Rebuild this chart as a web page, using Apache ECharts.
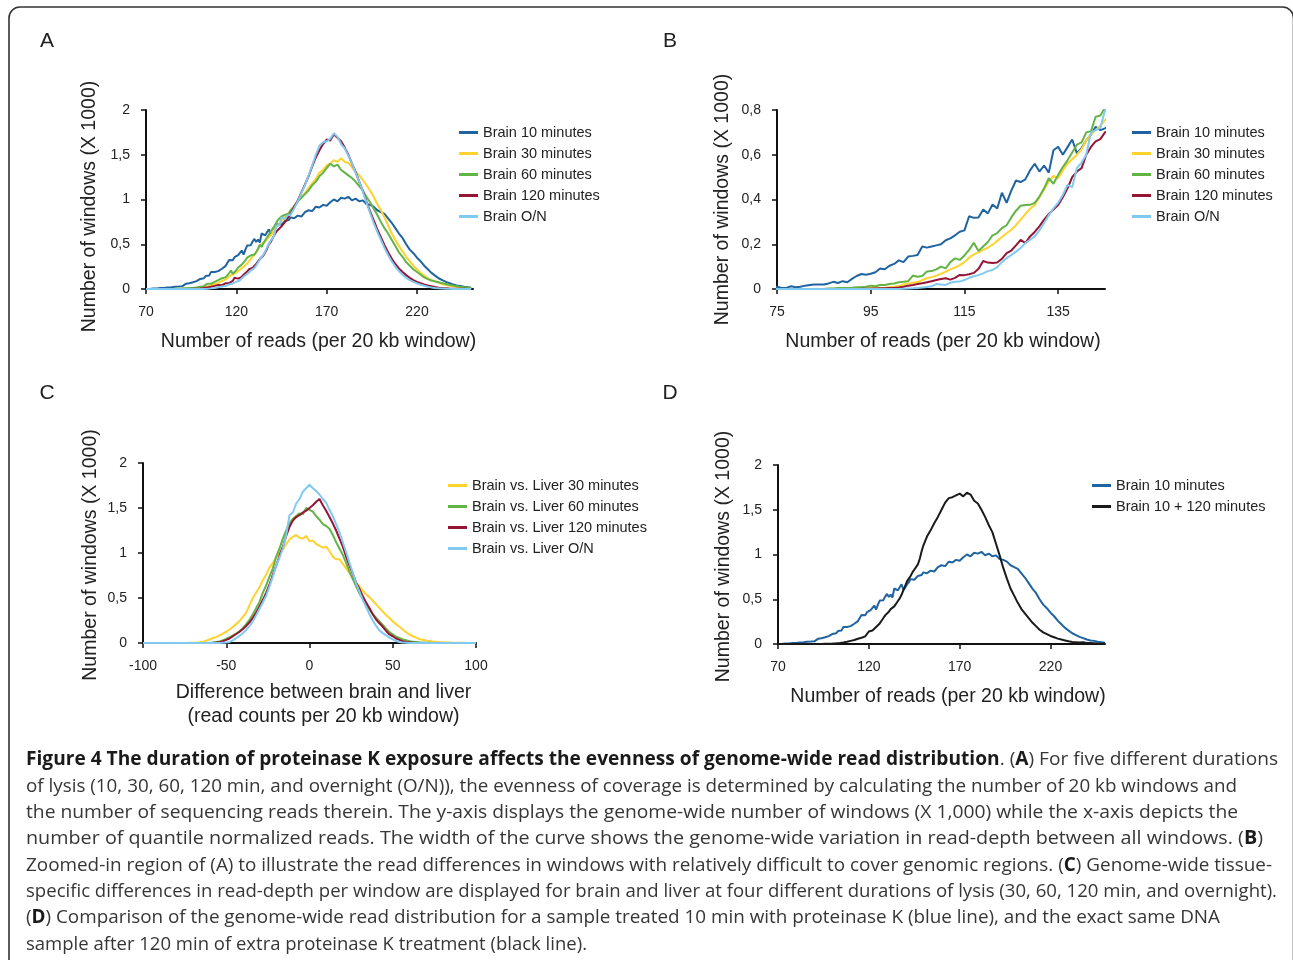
<!DOCTYPE html>
<html><head><meta charset="utf-8">
<script src="https://cdn.jsdelivr.net/npm/echarts@6/dist/echarts.min.js"></script>
<style>html,body{margin:0;padding:0;background:#fff}#c{width:1293px;height:960px}</style>
</head><body><div id="c"></div>
<script>
// ---------- DATA ----------
const readsX = [
70,71,72,73,74,75,76,77,78,79,
80,81,82,83,84,85,86,87,88,89,
90,91,92,93,94,95,96,97,98,99,
100,101,102,103,104,105,106,107,108,109,
110,111,112,113,114,115,116,117,118,119,
120,121,122,123,124,125,126,127,128,129,
130,131,132,133,134,135,136,137,138,139,
140,141,142,143,144,145,146,147,148,149,
150,
152,154,156,158,160,162,164,166,168,170,
172,174,176,178,180,182,184,186,188,190,
192,194,196,198,200,202,204,206,208,210,
212,214,216,218,220,222,224,226,228,230,
232,234,236,238,240,242,244,246,248,250];

const brain10 = [
0,0,0,0.005,0.005,0.01,0.005,0.005,0.012,0.008,
0.01,0.015,0.018,0.02,0.02,0.02,0.025,0.032,0.027,0.035,
0.03,0.045,0.058,0.067,0.064,0.068,0.075,0.092,0.088,0.104,
0.112,0.128,0.12,0.145,0.148,0.152,0.19,0.185,0.19,0.195,
0.2,0.218,0.226,0.24,0.256,0.262,0.325,0.318,0.32,0.355,
0.338,0.378,0.36,0.43,0.385,0.44,0.485,0.478,0.49,0.53,
0.56,0.525,0.552,0.52,0.62,0.636,0.6,0.634,0.668,0.606,
0.63,0.665,0.69,0.725,0.71,0.718,0.73,0.76,0.74,0.77,
0.8,
0.79,0.82,0.81,0.86,0.88,0.87,0.92,0.91,0.94,0.93,
0.97,1.0,0.98,1.02,1.01,1.03,0.99,1.01,0.98,0.99,
0.95,0.94,0.92,0.88,0.86,0.84,0.79,0.74,0.68,0.62,
0.57,0.5,0.44,0.4,0.35,0.31,0.26,0.22,0.18,0.15,
0.12,0.1,0.08,0.065,0.05,0.04,0.035,0.025,0.02,0.015];

const brain30 = [
0,0,0,0,0,0,0,0,0,0,
0,0,0,0,0,0,0.001,0.001,0.002,0.002,
0.002,0.003,0.003,0.003,0.003,0.003,0.004,0.005,0.006,0.008,
0.01,0.013,0.02,0.024,0.028,0.031,0.04,0.048,0.053,0.06,
0.068,0.078,0.088,0.096,0.107,0.12,0.14,0.155,0.164,0.175,
0.185,0.198,0.215,0.232,0.249,0.265,0.285,0.31,0.335,0.358,
0.375,0.41,0.445,0.48,0.505,0.495,0.53,0.56,0.58,0.6,
0.625,0.665,0.69,0.71,0.73,0.755,0.78,0.8,0.83,0.85,
0.87,
0.93,0.97,1.03,1.07,1.13,1.18,1.23,1.3,1.33,1.38,
1.4,1.44,1.42,1.46,1.42,1.41,1.36,1.31,1.27,1.22,
1.16,1.1,1.03,0.95,0.88,0.8,0.71,0.62,0.55,0.48,
0.42,0.36,0.31,0.26,0.22,0.18,0.15,0.12,0.1,0.085,
0.07,0.055,0.045,0.035,0.03,0.025,0.02,0.015,0.012,0.01];

const brain60 = [
0,0,0,0,0,0,0,0,0,0,
0,0,0,0,0,0,0.002,0.002,0.004,0.004,
0.005,0.006,0.008,0.008,0.01,0.015,0.012,0.018,0.018,0.022,
0.025,0.03,0.032,0.035,0.06,0.055,0.058,0.078,0.08,0.088,
0.1,0.092,0.12,0.137,0.13,0.15,0.175,0.207,0.17,0.19,
0.21,0.24,0.25,0.272,0.285,0.32,0.35,0.372,0.375,0.376,
0.385,0.413,0.45,0.495,0.47,0.51,0.545,0.575,0.61,0.645,
0.655,0.7,0.705,0.77,0.775,0.81,0.8,0.83,0.85,0.84,
0.88,
0.92,0.98,1.02,1.06,1.1,1.16,1.2,1.26,1.3,1.35,
1.4,1.37,1.39,1.33,1.3,1.27,1.24,1.2,1.15,1.1,
1.03,0.97,0.9,0.83,0.75,0.68,0.62,0.55,0.48,0.41,
0.36,0.3,0.26,0.22,0.19,0.16,0.13,0.11,0.095,0.085,
0.075,0.065,0.055,0.045,0.038,0.032,0.025,0.02,0.017,0.015];

const brain120 = [
0,0,0,0,0,0,0,0,0,0,
0,0,0,0,0,0,0,0,0,0,
0,0,0,0.001,0.001,0.002,0.002,0.003,0.003,0.004,
0.005,0.007,0.01,0.015,0.018,0.022,0.026,0.03,0.035,0.04,
0.045,0.048,0.042,0.05,0.063,0.062,0.066,0.072,0.09,0.125,
0.118,0.116,0.118,0.135,0.16,0.172,0.195,0.22,0.205,0.235,
0.255,0.28,0.31,0.335,0.355,0.375,0.41,0.45,0.5,0.525,
0.54,0.6,0.635,0.66,0.67,0.7,0.71,0.75,0.78,0.8,
0.84,
0.92,0.99,1.08,1.17,1.26,1.37,1.47,1.55,1.62,1.67,
1.66,1.73,1.69,1.65,1.58,1.5,1.4,1.31,1.2,1.1,
0.98,0.87,0.77,0.67,0.58,0.49,0.41,0.34,0.28,0.23,
0.19,0.155,0.125,0.1,0.08,0.065,0.052,0.04,0.03,0.022,
0.015,0.01,0.008,0.005,0.004,0.003,0.002,0.002,0.001,0];

const brainON = [
0,0,0,0,0,0,0,0,0,0,
0,0,0,0,0,0,0,0,0,0,
0,0,0,0,0,0,0,0,0,0,
0,0,0.001,0.002,0.003,0.005,0.007,0.009,0.012,0.022,
0.02,0.018,0.028,0.032,0.033,0.04,0.05,0.057,0.062,0.07,
0.08,0.085,0.098,0.12,0.138,0.152,0.167,0.183,0.205,0.22,
0.235,0.262,0.295,0.33,0.36,0.385,0.42,0.465,0.455,0.54,
0.565,0.6,0.7,0.71,0.72,0.8,0.79,0.78,0.82,0.8,
0.83,
0.9,0.98,1.07,1.16,1.27,1.38,1.5,1.6,1.64,1.65,
1.68,1.74,1.7,1.62,1.57,1.49,1.4,1.3,1.2,1.09,
0.97,0.85,0.74,0.64,0.55,0.46,0.38,0.31,0.25,0.2,
0.16,0.125,0.1,0.08,0.062,0.048,0.036,0.026,0.018,0.012,
0.008,0.005,0.003,0.002,0.001,0,0,0,0,0];

const brain10plus120 = [
0,0,0,0,0,0,0,0,0,0,
0,0,0,0,0,0,0,0,0,0,
0,0,0,0,0.001,0.001,0.002,0.002,0.003,0.004,
0.005,0.006,0.008,0.01,0.012,0.015,0.018,0.02,0.025,0.03,
0.035,0.04,0.045,0.05,0.058,0.065,0.07,0.075,0.085,0.1,
0.14,0.12,0.15,0.17,0.19,0.21,0.23,0.26,0.29,0.32,
0.34,0.36,0.39,0.4,0.42,0.45,0.48,0.51,0.55,0.6,
0.65,0.7,0.73,0.76,0.8,0.83,0.85,0.89,0.95,1.03,
1.1,
1.2,1.27,1.35,1.42,1.5,1.58,1.63,1.64,1.66,1.68,
1.65,1.69,1.67,1.6,1.57,1.5,1.42,1.33,1.25,1.12,
0.99,0.85,0.73,0.62,0.54,0.46,0.39,0.34,0.29,0.24,
0.2,0.16,0.13,0.11,0.09,0.075,0.06,0.05,0.04,0.03,
0.022,0.02,0.018,0.02,0.012,0.01,0.008,0.005,0.003,0.002];

const diffX = [
-100,-98,-96,-94,-92,-90,-88,-86,-84,-82,
-80,-78,-76,-74,-72,-70,-68,-66,-64,-62,
-60,-58,-56,-54,-52,-50,-48,-46,-44,-42,
-40,-38,-36,-34,-32,-30,-28,-26,-24,-22,
-20,-18,-16,-14,-12,-10,-8,-6,-4,-2,
0,2,4,6,8,10,12,14,16,18,
20,22,24,26,28,30,32,34,36,38,
40,42,44,46,48,50,52,54,56,58,
60,62,64,66,68,70,72,74,76,78,
80,82,84,86,88,90,92,94,96,98,
100];

const liver30 = [
0,0,0,0,0,0,0,0,0,0,
0,0,0,0.001,0.002,0.003,0.005,0.008,0.015,0.025,
0.04,0.055,0.065,0.085,0.105,0.125,0.15,0.18,0.21,0.245,
0.29,0.34,0.42,0.5,0.56,0.62,0.7,0.76,0.84,0.89,
0.95,1.0,1.04,1.1,1.15,1.18,1.2,1.17,1.16,1.19,
1.13,1.14,1.1,1.08,1.06,1.07,1.02,0.96,0.93,0.93,
0.88,0.83,0.78,0.72,0.67,0.63,0.58,0.54,0.51,0.47,
0.43,0.39,0.35,0.31,0.28,0.24,0.21,0.18,0.15,0.12,
0.095,0.075,0.06,0.045,0.035,0.028,0.022,0.017,0.013,0.01,
0.008,0.006,0.005,0.004,0.003,0.002,0.002,0.001,0.001,0,
0];

const liver60 = [
0,0,0,0,0,0,0,0,0,0,
0,0,0,0,0,0,0,0,0,0,
0,0.005,0.01,0.018,0.03,0.045,0.065,0.085,0.105,0.13,
0.165,0.21,0.26,0.32,0.39,0.46,0.56,0.64,0.74,0.83,
0.96,1.05,1.16,1.25,1.33,1.38,1.41,1.44,1.43,1.5,
1.48,1.46,1.41,1.37,1.32,1.3,1.27,1.2,1.12,1.05,
0.98,0.89,0.79,0.71,0.63,0.55,0.49,0.42,0.37,0.32,
0.28,0.24,0.2,0.16,0.12,0.095,0.07,0.055,0.04,0.03,
0.02,0.015,0.01,0.007,0.005,0.003,0.002,0,0,0,
0,0,0,0,0,0,0,0,0,0,
0];

const liver120 = [
0,0,0,0,0,0,0,0,0,0,
0,0,0,0,0,0,0,0,0,0,
0,0,0.005,0.01,0.02,0.035,0.05,0.075,0.1,0.125,
0.155,0.19,0.23,0.28,0.34,0.41,0.48,0.56,0.65,0.76,
0.86,0.97,1.07,1.19,1.29,1.36,1.4,1.42,1.45,1.47,
1.5,1.53,1.57,1.6,1.53,1.47,1.4,1.33,1.25,1.16,
1.07,0.96,0.86,0.77,0.67,0.6,0.52,0.45,0.39,0.32,
0.26,0.22,0.18,0.135,0.095,0.075,0.05,0.035,0.02,0.012,
0.007,0.004,0.002,0,0,0,0,0,0,0,
0,0,0,0,0,0,0,0,0,0,
0];

const liverON = [
0,0,0,0,0,0,0,0,0,0,
0,0,0,0,0,0,0,0,0,0,
0,0,0,0,0.003,0.006,0.012,0.03,0.055,0.08,
0.11,0.145,0.19,0.24,0.31,0.38,0.45,0.53,0.63,0.74,
0.86,0.95,1.05,1.2,1.42,1.45,1.55,1.6,1.68,1.72,
1.76,1.72,1.69,1.65,1.6,1.56,1.48,1.41,1.32,1.23,
1.12,1.01,0.89,0.78,0.66,0.57,0.48,0.4,0.32,0.25,
0.19,0.14,0.11,0.085,0.06,0.04,0.022,0.012,0.006,0.003,
0,0,0,0,0,0,0,0,0,0,
0,0,0,0,0,0,0,0,0,0,
0];

const ticksReads = [70, 120, 170, 220];
const ticksZoom = [75, 95, 115, 135];
const ticksDiff = [-100, -50, 0, 50, 100];

const namesA = ['Brain 10 minutes', 'Brain 30 minutes', 'Brain 60 minutes', 'Brain 120 minutes', 'Brain O/N'];
const namesC = ['Brain vs. Liver 30 minutes', 'Brain vs. Liver 60 minutes', 'Brain vs. Liver 120 minutes', 'Brain vs. Liver O/N'];
const namesD = ['Brain 10 minutes', 'Brain 10 + 120 minutes'];

const captionLines = [
  [["Figure 4 The duration of proteinase K exposure affects the evenness of genome-wide read distribution", true], [". (", false], ["A", true], [") For five different durations", false]],
  [["of lysis (10, 30, 60, 120 min, and overnight (O/N)), the evenness of coverage is determined by calculating the number of 20 kb windows and", false]],
  [["the number of sequencing reads therein. The y-axis displays the genome-wide number of windows (X 1,000) while the x-axis depicts the", false]],
  [["number of quantile normalized reads. The width of the curve shows the genome-wide variation in read-depth between all windows. (", false], ["B", true], [")", false]],
  [["Zoomed-in region of (A) to illustrate the read differences in windows with relatively difficult to cover genomic regions. (", false], ["C", true], [") Genome-wide tissue-", false]],
  [["specific differences in read-depth per window are displayed for brain and liver at four different durations of lysis (30, 60, 120 min, and overnight).", false]],
  [["(", false], ["D", true], [") Comparison of the genome-wide read distribution for a sample treated 10 min with proteinase K (blue line), and the exact same DNA", false]],
  [["sample after 120 min of extra proteinase K treatment (black line).", false]]
];

// ---------- STYLE ----------
const C_BLUE = '#1f64a0', C_YEL = '#ffd22e', C_GRN = '#63b446', C_RED = '#961434', C_LBL = '#80c9f0', C_BLK = '#1a1a1a';
const FONT = "'Liberation Sans', Arial, sans-serif";
const captionRight = [1278, 1237, 1238, 1263, 1272, 1277, 1220, 587];

const pairs = (xs, ys) => xs.map((x, i) => [x, ys[i]]);
const comma = v => String(v).replace('.', ',');

function xAxis(grid, min, max, ticks, name, padLeft, gap) {
  return {
    type: 'value', gridIndex: grid, min: min, max: max,
    axisLine: { show: true, onZero: false, lineStyle: { color: '#111', width: 2 } },
    axisTick: { show: true, length: 5, customValues: ticks, lineStyle: { color: '#111', width: 1.5 } },
    axisLabel: { customValues: ticks, fontSize: 14, color: '#222', fontFamily: FONT, margin: 16 },
    splitLine: { show: false },
    name: name, nameLocation: 'middle', nameGap: gap, nameMoveOverlap: false,
    nameTextStyle: { fontSize: 19.5, color: '#222', fontFamily: FONT, padding: [0, 0, 0, padLeft], lineHeight: 24 }
  };
}
function yAxis(grid, max, interval, padRight, gap) {
  return {
    type: 'value', gridIndex: grid, min: 0, max: max, interval: interval,
    axisLine: { show: true, onZero: false, lineStyle: { color: '#111', width: 2 } },
    axisTick: { show: true, length: 5, lineStyle: { color: '#111', width: 1.5 } },
    axisLabel: { formatter: comma, fontSize: 14, color: '#222', fontFamily: FONT, margin: 16 },
    splitLine: { show: false },
    name: 'Number of windows (X 1000)', nameLocation: 'middle', nameGap: gap, nameMoveOverlap: false,
    nameTextStyle: { fontSize: 19.5, color: '#222', fontFamily: FONT, padding: [0, padRight, 0, 0] }
  };
}
function line(name, xs, ys, color, axis) {
  return {
    type: 'line', name: name, data: pairs(xs, ys), xAxisIndex: axis, yAxisIndex: axis,
    symbol: 'none', showSymbol: false, clip: true, animation: false,
    itemStyle: { color: color }, lineStyle: { color: color, width: 2 },
    emphasis: { disabled: true }
  };
}
function legend(names, left, top) {
  return {
    data: names, orient: 'vertical', left: left, top: top, icon: 'rect', padding: 0,
    itemWidth: 19, itemHeight: 3, itemGap: 6, selectedMode: false,
    textStyle: { fontSize: 14.5, color: '#222', fontFamily: FONT }
  };
}

const colorsA = [C_BLUE, C_YEL, C_GRN, C_RED, C_LBL];
const dataA = [brain10, brain30, brain60, brain120, brainON];
const dataC = [liver30, liver60, liver120, liverON];
const colorsC = [C_YEL, C_GRN, C_RED, C_LBL];

const series = [];
namesA.forEach((n, i) => series.push(line(n, readsX, dataA[i], colorsA[i], 0)));
namesA.forEach((n, i) => series.push(line(n, readsX, dataA[i], colorsA[i], 1)));
namesC.forEach((n, i) => series.push(line(n, diffX, dataC[i], colorsC[i], 2)));
series.push(line(namesD[0], readsX, brain10, C_BLUE, 3));
series.push(line(namesD[1], readsX, brain10plus120, C_BLK, 3));

// ---------- GRAPHICS (frame, panel letters, caption) ----------
const graphics = [
  { type: 'rect', silent: true, shape: { x: 9, y: 7, width: 1284.5, height: 1000, r: 11 },
    style: { fill: 'none', stroke: '#333', lineWidth: 1.6 } }
];
[['A', 47, 41], ['B', 670, 41], ['C', 47, 393], ['D', 670, 393]].forEach(([t, x, y]) => {
  graphics.push({ type: 'text', x: x, y: y, silent: true,
    style: { text: t, font: "21px 'Liberation Sans', Arial, sans-serif", fill: '#222', align: 'center', verticalAlign: 'middle' } });
});
const mctx = document.createElement('canvas').getContext('2d');
const capFont = b => (b ? 'bold ' : '') + "19px 'Open Sans', sans-serif";
captionLines.forEach((segs, li) => {
  let total = 0;
  segs.forEach(([t, b]) => { mctx.font = capFont(b); total += mctx.measureText(t).width; });
  const s = (captionRight[li] - 26) / total;
  let cx = 26;
  const y = 760 + li * 26.3;
  segs.forEach(([t, b]) => {
    mctx.font = capFont(b);
    const w = mctx.measureText(t).width;
    graphics.push({ type: 'text', x: cx, y: y, scaleX: s, silent: true,
      style: { text: t, font: capFont(b), fill: b ? '#1a1a1a' : '#363636', align: 'left', verticalAlign: 'middle' } });
    cx += w * s;
  });
});

const option = {
  backgroundColor: '#ffffff',
  animation: false,
  grid: [
    { left: 146, top: 110, width: 327, height: 179, containLabel: false, outerBoundsMode: 'none' },
    { left: 777, top: 110, width: 328, height: 179, containLabel: false, outerBoundsMode: 'none' },
    { left: 143, top: 463, width: 333, height: 180, containLabel: false, outerBoundsMode: 'none' },
    { left: 778, top: 465, width: 327, height: 179, containLabel: false, outerBoundsMode: 'none' }
  ],
  xAxis: [
    xAxis(0, 70, 251, ticksReads, 'Number of reads (per 20 kb window)', 18, 41),
    xAxis(1, 75, 145, ticksZoom, 'Number of reads (per 20 kb window)', 4, 41),
    xAxis(2, -100, 100, ticksDiff, 'Difference between brain and liver\n(read counts per 20 kb window)', 28, 38),
    xAxis(3, 70, 250, ticksReads, 'Number of reads (per 20 kb window)', 13, 41)
  ],
  yAxis: [
    yAxis(0, 2, 0.5, 14, 46),
    yAxis(1, 0.8, 0.2, 0, 44),
    yAxis(2, 2, 0.5, 4, 42),
    yAxis(3, 2, 0.5, 4, 44)
  ],
  legend: [
    legend(namesA, 459, 125),
    legend(namesA, 1132, 125),
    legend(namesC, 448, 478),
    legend(namesD, 1092, 478)
  ],
  series: series,
  graphic: graphics
};

const chart = echarts.init(document.getElementById('c'), null, { renderer: 'canvas', width: 1293, height: 960 });
chart.setOption(option);
</script>
</body></html>
